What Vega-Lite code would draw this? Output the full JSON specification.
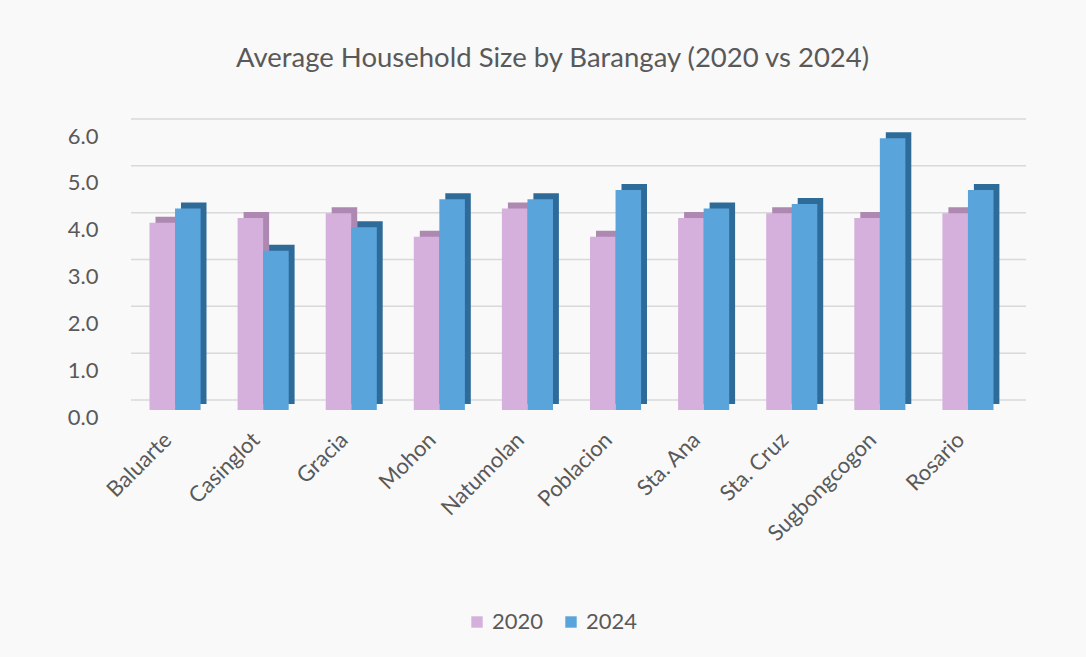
{
  "$schema": "https://vega.github.io/schema/vega-lite/v6.json",
  "autosize": "none",
  "width": 881,
  "height": 281,
  "padding": {"left": 131, "top": 129, "right": 74, "bottom": 247},
  "background": "#f9f9f9",
  "title": {
    "text": "Average Household Size by Barangay (2020 vs 2024)",
    "font": "Lato",
    "fontSize": 27.5,
    "fontWeight": "normal",
    "color": "#595959",
    "anchor": "middle",
    "dx": -19,
    "offset": 46
  },
  "data": {
    "values": [
      {"barangay": "Baluarte", "year": "2020", "size": 4.0},
      {"barangay": "Baluarte", "year": "2024", "size": 4.3},
      {"barangay": "Casinglot", "year": "2020", "size": 4.1},
      {"barangay": "Casinglot", "year": "2024", "size": 3.4},
      {"barangay": "Gracia", "year": "2020", "size": 4.2},
      {"barangay": "Gracia", "year": "2024", "size": 3.9},
      {"barangay": "Mohon", "year": "2020", "size": 3.7},
      {"barangay": "Mohon", "year": "2024", "size": 4.5},
      {"barangay": "Natumolan", "year": "2020", "size": 4.3},
      {"barangay": "Natumolan", "year": "2024", "size": 4.5},
      {"barangay": "Poblacion", "year": "2020", "size": 3.7},
      {"barangay": "Poblacion", "year": "2024", "size": 4.7},
      {"barangay": "Sta. Ana", "year": "2020", "size": 4.1},
      {"barangay": "Sta. Ana", "year": "2024", "size": 4.3},
      {"barangay": "Sta. Cruz", "year": "2020", "size": 4.2},
      {"barangay": "Sta. Cruz", "year": "2024", "size": 4.4},
      {"barangay": "Sugbongcogon", "year": "2020", "size": 4.1},
      {"barangay": "Sugbongcogon", "year": "2024", "size": 5.8},
      {"barangay": "Rosario", "year": "2020", "size": 4.2},
      {"barangay": "Rosario", "year": "2024", "size": 4.7}
    ]
  },
  "layer": [
    {
      "data": {"values": [{"g": 0}, {"g": 1}, {"g": 2}, {"g": 3}, {"g": 4}, {"g": 5}, {"g": 6}]},
      "mark": {"type": "rule", "color": "#d9d9d9", "strokeWidth": 1.5, "yOffset": -10, "xOffset": 14},
      "encoding": {
        "y": {
          "field": "g",
          "type": "quantitative",
          "scale": {"domain": [0, 6]},
          "axis": {
            "title": null,
            "format": ".1f",
            "values": [0, 1, 2, 3, 4, 5, 6],
            "labelFont": "Lato",
            "labelFontSize": 22,
            "labelColor": "#595959",
            "labelPadding": 33,
            "labelOffset": 7,
            "domain": false,
            "ticks": false,
            "grid": false
          }
        }
      }
    },
    {
      "mark": {"type": "bar", "yOffset": -6},
      "encoding": {
        "x": {"field": "barangay", "type": "nominal", "sort": null},
        "xOffset": {
          "field": "year",
          "type": "nominal",
          "sort": ["2020", "2024"],
          "scale": {"range": [6, 57]}
        },
        "y": {"field": "size", "type": "quantitative"},
        "color": {
          "condition": {"test": "datum.year == '2020'", "value": "#ad88b0"},
          "value": "#2e6b99"
        }
      }
    },
    {
      "mark": {"type": "bar"},
      "encoding": {
        "x": {
          "field": "barangay",
          "type": "nominal",
          "sort": null,
          "scale": {"paddingInner": 0.42, "paddingOuter": 0.21},
          "axis": {
            "title": null,
            "labelAngle": -45,
            "labelFont": "Lato",
            "labelFontSize": 22,
            "labelColor": "#595959",
            "domain": false,
            "ticks": false,
            "labelPadding": 26,
            "labelOffset": -7
          }
        },
        "xOffset": {"field": "year", "type": "nominal", "sort": ["2020", "2024"]},
        "y": {"field": "size", "type": "quantitative"},
        "color": {
          "field": "year",
          "type": "nominal",
          "scale": {"domain": ["2020", "2024"], "range": ["#d5b0dc", "#5aa4dc"]},
          "legend": {
            "title": null,
            "orient": "none",
            "legendX": 335,
            "legendY": 482,
            "direction": "horizontal",
            "symbolType": "square",
            "symbolSize": 130,
            "symbolStrokeWidth": 0,
            "labelFont": "Lato",
            "labelFontSize": 22,
            "labelColor": "#595959",
            "columnPadding": 16
          }
        }
      }
    }
  ],
  "resolve": {"scale": {"xOffset": "independent"}},
  "config": {
    "view": {"stroke": null}
  }
}
